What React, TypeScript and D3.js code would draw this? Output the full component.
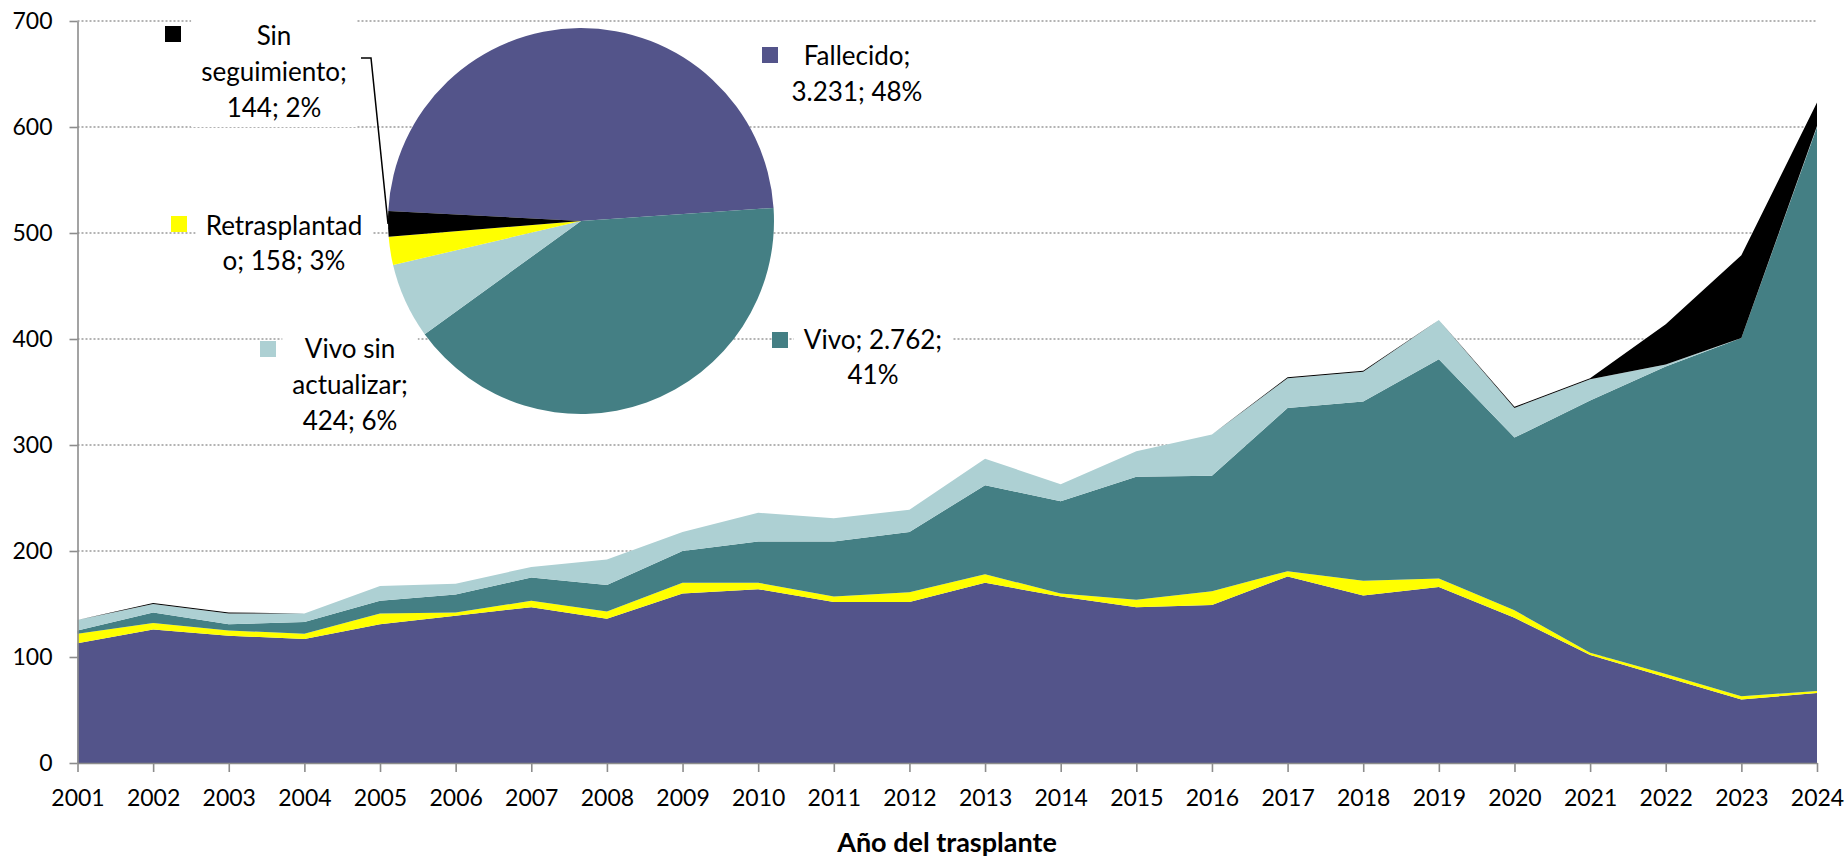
import React, { useEffect, useRef } from "react";
import * as d3 from "d3";

// año del trasplante
const years = [
  "2001", "2002", "2003", "2004", "2005", "2006", "2007", "2008", "2009", "2010", "2011", "2012",
  "2013", "2014", "2015", "2016", "2017", "2018", "2019", "2020", "2021", "2022", "2023", "2024",
];

// series (stacked from bottom to top)
const fallecido = [113, 126, 120, 117, 131, 139, 147, 136, 160, 164, 152, 152, 170, 157, 147, 149, 176, 158, 166, 137, 102, 81, 60, 66];
const retrasplantado = [9, 6, 5, 5, 10, 3, 6, 7, 10, 6, 5, 9, 8, 3, 7, 13, 5, 14, 8, 7, 2, 3, 3, 2];
const vivo = [3, 10, 6, 11, 12, 17, 22, 25, 30, 39, 52, 57, 84, 87, 116, 109, 154, 169, 207, 163, 238, 290, 338, 532];
const vivoSinActualizar = [10, 8, 10, 8, 14, 10, 10, 24, 18, 27, 22, 21, 25, 16, 24, 39, 28, 28, 37, 28, 20, 2, 0, 1];
const sinSeguimiento = [0, 1, 1, 0, 0, 0, 0, 0, 0, 0, 0, 0, 0, 0, 0, 0, 1, 1, 0, 1, 1, 38, 78, 22];

const yTicks = [0, 100, 200, 300, 400, 500, 600, 700];

// pie (totales)
const pieNames = ["Fallecido", "Vivo", "Vivo sin actualizar", "Retrasplantado", "Sin seguimiento"];
const pieValues = [3231, 2762, 424, 158, 144];
const pieLabelLines = [
  ["Fallecido;", "3.231; 48%"],
  ["Vivo; 2.762;", "41%"],
  ["Vivo sin", "actualizar;", "424; 6%"],
  ["Retrasplantad", "o; 158; 3%"],
  ["Sin", "seguimiento;", "144; 2%"],
];

const colors: Record<string, string> = {
  "Fallecido": "#53548A",
  "Retrasplantado": "#FFFF00",
  "Vivo": "#447F84",
  "Vivo sin actualizar": "#ADD0D3",
  "Sin seguimiento": "#000000",
};

const W = 1847;
const H = 861;
const FONT = "Lato, 'Open Sans', sans-serif";

// label placement (square x,y ; text centre x ; baselines)
const labelLayout = [
  { sx: 762, sy: 47, cx: 857, ys: [65, 101] },
  { sx: 772, sy: 332, cx: 873, ys: [349, 384] },
  { sx: 260, sy: 341, cx: 350, ys: [358, 394, 430] },
  { sx: 171, sy: 216, cx: 284, ys: [235, 270] },
  { sx: 165, sy: 26, cx: 274, ys: [45, 81, 117] },
];

const App = () => {
  const ref = useRef<SVGSVGElement>(null);

  useEffect(() => {
    document.body.style.margin = "0";
    const svg = d3.select(ref.current);
    svg.selectAll("*").remove();

    const x = d3.scalePoint<string>().domain(years).range([77.5, 1817]);
    const y = d3.scaleLinear().domain([0, 700]).range([763, 21]);

    // gridlines
    svg.append("g")
      .selectAll("line")
      .data(yTicks.slice(1))
      .join("line")
      .attr("x1", 77.5)
      .attr("x2", 1817)
      .attr("y1", d => y(d))
      .attr("y2", d => y(d))
      .attr("stroke", "#9a9a9a")
      .attr("stroke-width", 1.3)
      .attr("stroke-dasharray", "2 2");

    // stacked areas
    const rows = years.map((yr, i) => ({
      year: yr,
      "Fallecido": fallecido[i],
      "Retrasplantado": retrasplantado[i],
      "Vivo": vivo[i],
      "Vivo sin actualizar": vivoSinActualizar[i],
      "Sin seguimiento": sinSeguimiento[i],
    }));
    const keys = ["Fallecido", "Retrasplantado", "Vivo", "Vivo sin actualizar", "Sin seguimiento"];
    const series = d3.stack<any>().keys(keys)(rows);
    const area = d3.area<any>()
      .x(d => x(d.data.year) as number)
      .y0(d => y(d[0]))
      .y1(d => y(d[1]));

    svg.append("g")
      .selectAll("path")
      .data(series)
      .join("path")
      .attr("d", area as any)
      .attr("fill", d => colors[d.key]);

    // axes
    const yAxis = svg.append("g")
      .attr("transform", "translate(77.5,0)")
      .call(d3.axisLeft(y).tickValues(yTicks).tickSize(8).tickSizeOuter(0).tickPadding(17));
    const xAxis = svg.append("g")
      .attr("transform", "translate(0,763)")
      .call(d3.axisBottom(x).tickSize(9).tickSizeOuter(0));

    [yAxis, xAxis].forEach(g => {
      g.select(".domain").attr("stroke", "#8c8c8c").attr("stroke-width", 1.6);
      g.selectAll(".tick line").attr("stroke", "#8c8c8c").attr("stroke-width", 1.6);
      g.selectAll(".tick text")
        .attr("fill", "#000")
        .style("font-family", FONT)
        .style("font-size", "23px");
    });
    xAxis.selectAll(".tick text").attr("y", 43).attr("dy", 0);

    svg.append("text")
      .attr("x", 947)
      .attr("y", 852)
      .attr("text-anchor", "middle")
      .style("font-family", FONT)
      .style("font-size", "27px")
      .style("font-weight", "bold")
      .text("Año del trasplante");

    // pie
    const cx = 581, cy = 221, r = 193;
    const start = (-87 * Math.PI) / 180;
    const pie = d3.pie<number>().sort(null).startAngle(start).endAngle(start + 2 * Math.PI);
    const arcs = pie(pieValues);
    const arc = d3.arc<any>().innerRadius(0).outerRadius(r);
    const pieG = svg.append("g").attr("transform", `translate(${cx},${cy})`);
    pieG.selectAll("path")
      .data(arcs)
      .join("path")
      .attr("d", arc)
      .attr("fill", (_, i) => colors[pieNames[i]]);

    // leader line for "Sin seguimiento"
    const edge = d3.arc<any>().innerRadius(r).outerRadius(r).centroid(arcs[4]);
    svg.append("polyline")
      .attr("points", `361,58 371,58 ${cx + edge[0]},${cy + edge[1]}`)
      .attr("fill", "none")
      .attr("stroke", "#000")
      .attr("stroke-width", 1.5);

    // labels
    pieLabelLines.forEach((lines, i) => {
      const L = labelLayout[i];
      const g = svg.append("g");
      const bg = g.append("rect").attr("fill", "#fff");
      g.append("rect")
        .attr("x", L.sx)
        .attr("y", L.sy)
        .attr("width", 16)
        .attr("height", 16)
        .attr("fill", colors[pieNames[i]]);
      const t = g.append("g");
      lines.forEach((s, j) => {
        t.append("text")
          .attr("x", L.cx)
          .attr("y", L.ys[j])
          .attr("text-anchor", "middle")
          .style("font-family", FONT)
          .style("font-size", "26px")
          .attr("fill", "#000")
          .text(s);
      });
      const b = (t.node() as SVGGElement).getBBox();
      bg.attr("x", b.x - 10).attr("y", b.y - 4).attr("width", b.width + 20).attr("height", b.height + 8);
    });
  }, []);

  return <svg ref={ref} width={W} height={H} style={{ display: "block", background: "#fff" }} />;
};

export default App;
